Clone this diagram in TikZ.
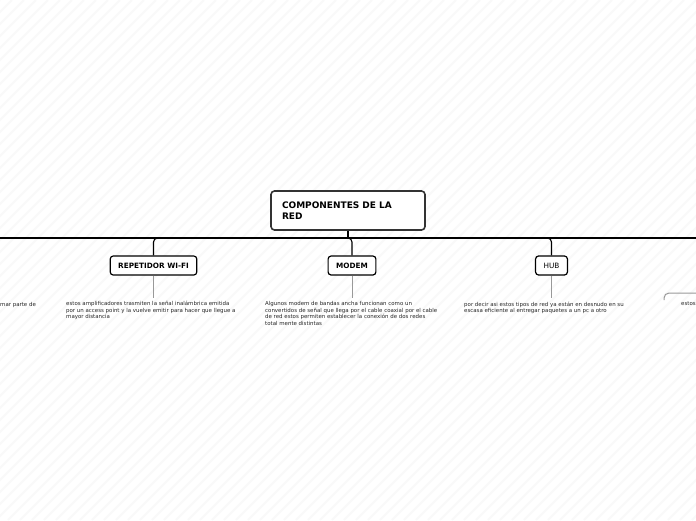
\documentclass[tikz,border=0pt]{standalone}
\usepackage{fontspec}
\setmainfont{DejaVu Sans}
\begin{document}
\begin{tikzpicture}[x=1pt,y=-1pt,
  rootbox/.style={draw=black!80, line width=1.6pt, rounded corners=3.5pt, fill=white,
    minimum width=154pt, minimum height=39pt, inner xsep=11pt, inner ysep=0pt,
    text width=132pt, align=left, font=\fontsize{9}{11}\selectfont\bfseries},
  childbox/.style={draw=black, line width=1.2pt, rounded corners=3pt, fill=white,
    minimum height=19pt, inner xsep=8pt, inner ysep=0pt, font=\fontsize{7.3}{9}\selectfont\bfseries},
  childplain/.style={childbox, font=\fontsize{7.3}{9}\selectfont},
  desc/.style={anchor=north west, inner sep=0pt, align=left, text=black!85,
    font=\fontsize{5.45}{6.7}\selectfont},
  bus/.style={draw=black, line width=1.1pt},
  twig/.style={draw=black!40, line width=1pt},
  branch/.style={draw=black, line width=1.1pt, rounded corners=4pt}]
\useasboundingbox (0,0) rectangle (696,520);
\begin{scope}
\clip (0,0) rectangle (696,520);
\fill[white] (0,0) rectangle (696,520);
\foreach \i in {0,12,...,1224} {
  \draw[black!2.5, line width=2pt] (\i-520,520) -- (\i,0);
}
\end{scope}
% nodes
\node[rootbox] (root) at (348,210.5) {COMPONENTES DE LA\\RED};
\coordinate (busL) at (0,238);
\coordinate (busR) at (696,238);
\coordinate (busmid) at (348,238);
\node[childbox] (rep) at (153.5,265.5) {REPETIDOR WI-FI};
\node[childbox] (modem) at (352,265.5) {MODEM};
\node[childplain] (hub) at (551.5,265.5) {HUB};
% connectors
\draw[bus] (busL) -- (busR);
\draw[bus] (root.south) -- (busmid);
\draw[branch] (busmid) -| (rep.north);
\draw[branch] (busmid) -| (modem.north);
\draw[branch] (busmid) -| (hub.north);
% descriptions
\coordinate (repend) at (153.5,298);
\coordinate (modemend) at (352,298);
\coordinate (hubend) at (551.5,298);
\draw[twig] (rep.south) -- (repend);
\draw[twig] (modem.south) -- (modemend);
\draw[twig] (hub.south) -- (hubend);
\node[desc] (leftdesc) at (0,302.5) {mar parte de};
\node[desc] (repdesc) at (66,301) {estos amplificadores trasmiten la señal inalámbrica emitida\\por un access point y la vuelve emitir para hacer que llegue a\\mayor distancia};
\node[desc] (modemdesc) at (265,301) {Algunos modem de bandas ancha funcionan como un\\convertidos de señal que llega por el cable coaxial por el cable\\de red estos permiten establecer la conexión de dos redes\\total mente distintas};
\node[desc] (hubdesc) at (464,301.5) {por decir asi estos tipos de red ya están en desnudo en su\\escasa eficiente al entregar paquetes a un pc a otro};
\coordinate (rc1) at (664,300);
\coordinate (rc2) at (696,293);
\draw[twig, rounded corners=5pt] (rc1) |- (rc2);
\node[desc] (rightdesc) at (681,301.5) {estos};
\end{tikzpicture}
\end{document}
